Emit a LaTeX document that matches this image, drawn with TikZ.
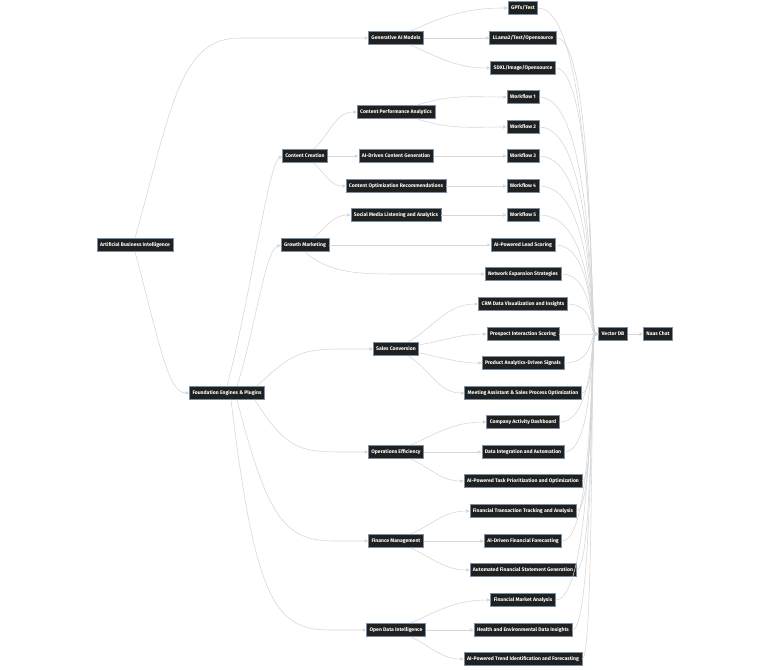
\documentclass[tikz,border=0pt]{standalone}
\usepackage{fontspec}
\setmainfont{Fira Sans}
\usetikzlibrary{arrows.meta,calc}
\definecolor{nodefill}{HTML}{1F2020}
\definecolor{nodeline}{HTML}{7A8FA6}
\definecolor{edgecol}{HTML}{D6D6D6}
\begin{document}
\begin{tikzpicture}[x=1pt,y=1pt,
 box/.style={draw=nodeline, fill=nodefill, line width=0.65pt, text=white,
   font=\fontsize{5.1}{6}\selectfont\bfseries, inner xsep=3pt, inner ysep=0pt,
   minimum height=13pt, text height=3.8pt, text depth=1pt},
 edge/.style={draw=edgecol, line width=0.55pt, -{Triangle[length=3.5pt,width=3.2pt,fill=edgecol]}}]
\useasboundingbox[fill=white] (0,0) rectangle (770,-669);
\coordinate (cx) at (594,0);
% level 0/1
\node[box] (abi) at (135,-245) {Artificial Business Intelligence};
\node[box] (fe) at (227,-393) {Foundation Engines \& Plugins};
\node[box] (gen) at (396,-38) {Generative AI Models};
% level 2
\node[box] (cc) at (305,-156) {Content Creation};
\node[box] (gm) at (305,-245) {Growth Marketing};
\node[box] (sc) at (396,-349) {Sales Conversion};
\node[box] (oe) at (396,-452) {Operations Efficiency};
\node[box] (fm) at (396,-541) {Finance Management};
\node[box] (od) at (396,-630) {Open Data Intelligence};
\node[box] (cpa) at (396,-112) {Content Performance Analytics};
\node[box] (aic) at (396,-156) {AI-Driven Content Generation};
\node[box] (cor) at (396,-186) {Content Optimization Recommendations};
\node[box] (sml) at (396,-215) {Social Media Listening and Analytics};
% leaves
\node[box] (gpt) at (523,-8) {GPTs/Test};
\node[box] (ll) at (523,-38) {LLama2/Test/Opensource};
\node[box] (sdxl) at (523,-68) {SDXL/Image/Opensource};
\node[box] (w1) at (523,-97) {Workflow 1};
\node[box] (w2) at (523,-127) {Workflow 2};
\node[box] (w3) at (523,-156) {Workflow 3};
\node[box] (w4) at (523,-186) {Workflow 4};
\node[box] (w5) at (523,-215) {Workflow 5};
\node[box] (ail) at (523,-245) {AI-Powered Lead Scoring};
\node[box] (nes) at (523,-274) {Network Expansion Strategies};
\node[box] (crm) at (523,-304) {CRM Data Visualization and Insights};
\node[box] (pis) at (523,-334) {Prospect Interaction Scoring};
\node[box] (pad) at (523,-363) {Product Analytics-Driven Signals};
\node[box] (mas) at (523,-393) {Meeting Assistant \& Sales Process Optimization};
\node[box] (cad) at (523,-422) {Company Activity Dashboard};
\node[box] (dia) at (523,-452) {Data Integration and Automation};
\node[box] (atp) at (523,-481) {AI-Powered Task Prioritization and Optimization};
\node[box] (ftt) at (523,-511) {Financial Transaction Tracking and Analysis};
\node[box] (aff) at (523,-541) {AI-Driven Financial Forecasting};
\node[box] (afs) at (523,-570) {Automated Financial Statement Generation};
\node[box] (fma) at (523,-600) {Financial Market Analysis};
\node[box] (hed) at (523,-630) {Health and Environmental Data Insights};
\node[box] (ati) at (523,-659) {AI-Powered Trend Identification and Forecasting};
\node[box] (vdb) at (613,-334) {Vector DB};
\node[box] (naas) at (658,-334) {Naas Chat};
% edges from top
\draw[edge] (abi.north) .. controls (172,-105) and (180,-38) .. (240,-38) -- (gen.west);
\draw[edge] (abi.south) .. controls (160,-345) and (168,-393) .. (fe.west);
\draw[edge] (fe.north) .. controls (250,-300) and (268,-165) .. (cc.west);
\draw[edge] ($(fe.north)+(10,0)$) .. controls (255,-330) and (265,-250) .. (gm.west);
\draw[edge] ($(fe.north east)+(-8,0)$) .. controls (290,-355) and (300,-349) .. (340,-349) -- (sc.west);
\draw[edge] ($(fe.south east)+(-10,0)$) .. controls (285,-448) and (300,-452) .. (340,-452) -- (oe.west);
\draw[edge] ($(fe.south)+(10,0)$) .. controls (268,-520) and (285,-541) .. (335,-541) -- (fm.west);
\draw[edge] ($(fe.south)+(4,0)$) .. controls (255,-600) and (275,-630) .. (330,-630) -- (od.west);
% generative
\draw[edge] (gen) to[out=25,in=180] (gpt.west);
\draw[edge] (gen) -- (ll);
\draw[edge] (gen) to[out=-25,in=180] (sdxl.west);
% content creation
\draw[edge] (cc) to[out=40,in=180] (cpa.west);
\draw[edge] (cc) -- (aic);
\draw[edge] (cc) to[out=-40,in=180] (cor.west);
\draw[edge] (cpa) to[out=18,in=180] (w1.west);
\draw[edge] (cpa) to[out=-18,in=180] (w2.west);
\draw[edge] (aic) -- (w3);
\draw[edge] (cor) -- (w4);
% growth marketing
\draw[edge] (gm) to[out=40,in=180] (sml.west);
\draw[edge] (gm) -- (ail);
\draw[edge] (gm.south) .. controls (330,-274) and (360,-274) .. (400,-274) -- (nes.west);
\draw[edge] (sml) -- (w5);
% sales
\draw[edge] (sc) to[out=30,in=180] (crm.west);
\draw[edge] (sc) to[out=10,in=180] (pis.west);
\draw[edge] (sc) to[out=-10,in=180] (pad.west);
\draw[edge] (sc) to[out=-30,in=180] (mas.west);
% ops
\draw[edge] (oe) to[out=25,in=180] (cad.west);
\draw[edge] (oe) -- (dia);
\draw[edge] (oe) to[out=-25,in=180] (atp.west);
% finance
\draw[edge] (fm) to[out=25,in=180] (ftt.west);
\draw[edge] (fm) -- (aff);
\draw[edge] (fm) to[out=-25,in=180] (afs.west);
% open data
\draw[edge] (od) to[out=25,in=180] (fma.west);
\draw[edge] (od) -- (hed);
\draw[edge] (od) to[out=-25,in=180] (ati.west);
% to vector db
\foreach \l in {gpt,ll,sdxl,w1,w2,w3,w4,w5,ail,nes,crm,pis,pad,mas,cad,dia,atp,ftt,aff,afs,fma,hed,ati}{
  \draw[edge] (\l.east) .. controls (\l.east -| cx) and ($(vdb.west)+(-8,0)$) .. (vdb.west);
}
\draw[edge] (vdb) -- (naas);
\end{tikzpicture}
\end{document}
